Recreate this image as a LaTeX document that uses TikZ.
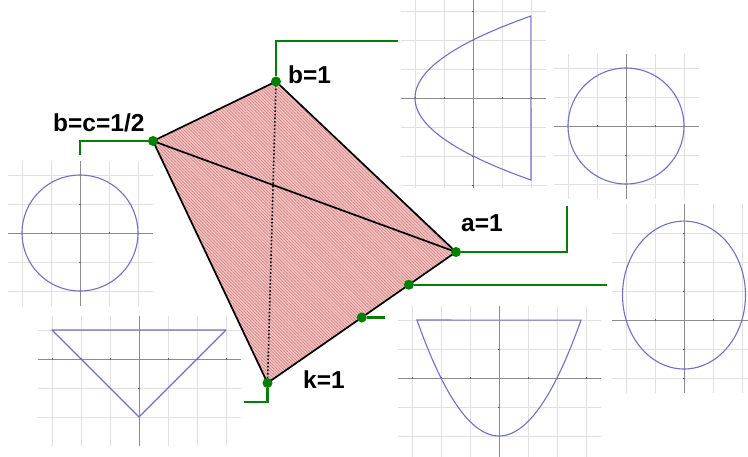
\documentclass[tikz,border=0pt]{standalone}
\usepackage{fontspec}
\setmainfont{Liberation Sans}
\usetikzlibrary{calc,patterns.meta}

\definecolor{leadgreen}{RGB}{0,128,0}
\definecolor{curveblue}{RGB}{112,112,196}
\definecolor{tetpink}{RGB}{244,196,196}
\definecolor{tetline}{RGB}{200,118,118}

\begin{document}
\begin{tikzpicture}[
  x=1pt, y=-1pt,
  gridln/.style={draw=black!12, line width=0.8pt},
  axisln/.style={draw=black!45, line width=1pt},
  tickln/.style={draw=black!60, line width=1pt},
  curve/.style={draw=curveblue, line width=1.1pt},
  edge/.style={draw=black, line width=1.7pt, line join=round},
  hidden/.style={draw=black, line width=1.6pt, dotted},
  leader/.style={draw=leadgreen, line width=2.2pt},
  dot/.style={circle, fill=leadgreen, inner sep=0pt, minimum size=10pt},
  lbl/.style={font=\bfseries\fontsize{24.5}{28}\selectfont, inner sep=0pt, anchor=base west}
]
\useasboundingbox (0,0) rectangle (748,456);

% ---------------- graph panels ----------------
% sideways parabola, top
\begin{scope}[shift={(473,98)}, x=29pt, y=29pt]
  \foreach \i in {-3,...,3} \draw[gridln] (-2.5,\i) -- (2.5,\i);
  \foreach \i in {-2,...,2} \draw[gridln] (\i,-3.1) -- (\i,3.4);
  \draw[axisln] (-2.5,0) -- (2.5,0);
  \draw[axisln] (0,-3.1) -- (0,3.4);
  \foreach \i in {-2,-1,1,2} \draw[tickln] (\i,-0.05) -- (\i,0.05);
  \foreach \i in {-3,-2,-1,1,2,3} \draw[tickln] (-0.05,\i) -- (0.05,\i);
  \draw[curve] plot[domain=-2.828:2.828, samples=60, variable=\t] ({\t*\t/2-2},\t) -- cycle;
\end{scope}

% circle, top right
\begin{scope}[shift={(626,126)}, x=29pt, y=29pt]
  \foreach \i in {-2,...,2} \draw[gridln] (-2.5,\i) -- (2.5,\i);
  \foreach \i in {-2,...,2} \draw[gridln] (\i,-2.5) -- (\i,2.5);
  \draw[axisln] (-2.5,0) -- (2.5,0);
  \draw[axisln] (0,-2.5) -- (0,2.5);
  \foreach \i in {-1,1} \draw[tickln] (\i,-0.05) -- (\i,0.05);
  \foreach \i in {-1,1} \draw[tickln] (-0.05,\i) -- (0.05,\i);
  \draw[curve] (0,0) circle[radius=2];
\end{scope}

% circle, left
\begin{scope}[shift={(80,233)}, x=29pt, y=29pt]
  \foreach \i in {-2,...,2} \draw[gridln] (-2.5,\i) -- (2.5,\i);
  \foreach \i in {-2,...,2} \draw[gridln] (\i,-2.5) -- (\i,2.5);
  \draw[axisln] (-2.5,0) -- (2.5,0);
  \draw[axisln] (0,-2.5) -- (0,2.5);
  \foreach \i in {-1,1} \draw[tickln] (\i,-0.05) -- (\i,0.05);
  \foreach \i in {-1,1} \draw[tickln] (-0.05,\i) -- (0.05,\i);
  \draw[curve] (0,0) circle[radius=2];
\end{scope}

% triangle, bottom left
\begin{scope}[shift={(139,359)}, x=29pt, y=29pt]
  \foreach \i in {-2,...,1} \draw[gridln] (-3.5,\i) -- (3.5,\i);
  \foreach \i in {-3,...,3} \draw[gridln] (\i,-3) -- (\i,1.5);
  \draw[axisln] (-3.5,0) -- (3.5,0);
  \draw[axisln] (0,-3) -- (0,1.5);
  \foreach \i in {-3,-2,-1,1,2,3} \draw[tickln] (\i,-0.05) -- (\i,0.05);
  \foreach \i in {-1} \draw[tickln] (-0.05,\i) -- (0.05,\i);
  \draw[curve, line join=round] (-3,1) -- (3,1) -- (0,-2) -- cycle;
\end{scope}

% parabola, bottom
\begin{scope}[shift={(499,378)}, x=29pt, y=29pt]
  \foreach \i in {-2,...,2} \draw[gridln] (-3.5,\i) -- (3.5,\i);
  \foreach \i in {-3,...,3} \draw[gridln] (\i,-2.8) -- (\i,2.5);
  \draw[axisln] (-3.5,0) -- (3.5,0);
  \draw[axisln] (0,-2.8) -- (0,2.5);
  \foreach \i in {-3,-2,-1,1,2,3} \draw[tickln] (\i,-0.05) -- (\i,0.05);
  \foreach \i in {-1,1} \draw[tickln] (-0.05,\i) -- (0.05,\i);
  \draw[curve] plot[domain=-2.828:2.828, samples=60, variable=\t] (\t,{\t*\t/2-2}) -- cycle;
\end{scope}

% ellipse, right
\begin{scope}[shift={(684,320)}, x=29pt, y=29pt]
  \foreach \i in {-2,...,3} \draw[gridln] (-2.5,\i) -- (2.3,\i);
  \foreach \i in {-2,...,2} \draw[gridln] (\i,-2.5) -- (\i,4);
  \draw[axisln] (-2.5,0) -- (2.3,0);
  \draw[axisln] (0,-2.5) -- (0,4);
  \foreach \i in {-1,1} \draw[tickln] (\i,-0.05) -- (\i,0.05);
  \foreach \i in {-2,-1,1,2,3} \draw[tickln] (-0.05,\i) -- (0.05,\i);
  \draw[curve] (0,0.86) ellipse[x radius=2.12, y radius=2.55];
\end{scope}

% ---------------- the solid ----------------
\coordinate (vb) at (276,81.5);
\coordinate (vc) at (153,141);
\coordinate (va) at (456,252);
\coordinate (vk) at (267.5,383);

\fill[tetpink] (vc) -- (vb) -- (va) -- (vk) -- cycle;
\fill[pattern={Lines[angle=-45, distance=2.2pt, line width=0.5pt]}, pattern color=tetline]
  (vc) -- (vb) -- (va) -- (vk) -- cycle;
\draw[hidden] (vb) -- (vk);
\draw[edge] (vc) -- (vb) -- (va) -- (vk) -- cycle;
\draw[edge] (vc) -- (va);

% ---------------- leaders ----------------
\node[dot] (db) at (vb) {};
\node[dot] (dc) at (vc) {};
\node[dot] (da) at (va) {};
\node[dot] (dk) at (vk) {};
\node[dot] (dq1) at ($(va)!0.25!(vk)$) {};
\node[dot] (dq2) at ($(va)!0.5!(vk)$) {};

\coordinate (bEnd) at (398,41);
\coordinate (cEnd) at (80,155);
\coordinate (aEnd) at (567,206);
\coordinate (q1End) at (607,286);
\coordinate (q2End) at (385,320);
\coordinate (kEnd) at (244,402);

\draw[leader] (db) |- (bEnd);
\draw[leader] (dc) -| (cEnd);
\draw[leader] (da) -| (aEnd);
\draw[leader] (dq1) -- (dq1 -| q1End);
\draw[leader] (dq2) -- (dq2 -| q2End);
\draw[leader] (dk) |- (kEnd);

% ---------------- labels ----------------
\node[lbl] (lb) at (288,83) {b=1};
\node[lbl] (lc) at (53,131.5) {b=c=1/2};
\node[lbl] (la) at (461,231) {a=1};
\node[lbl] (lk) at (303,388) {k=1};

\end{tikzpicture}
\end{document}
